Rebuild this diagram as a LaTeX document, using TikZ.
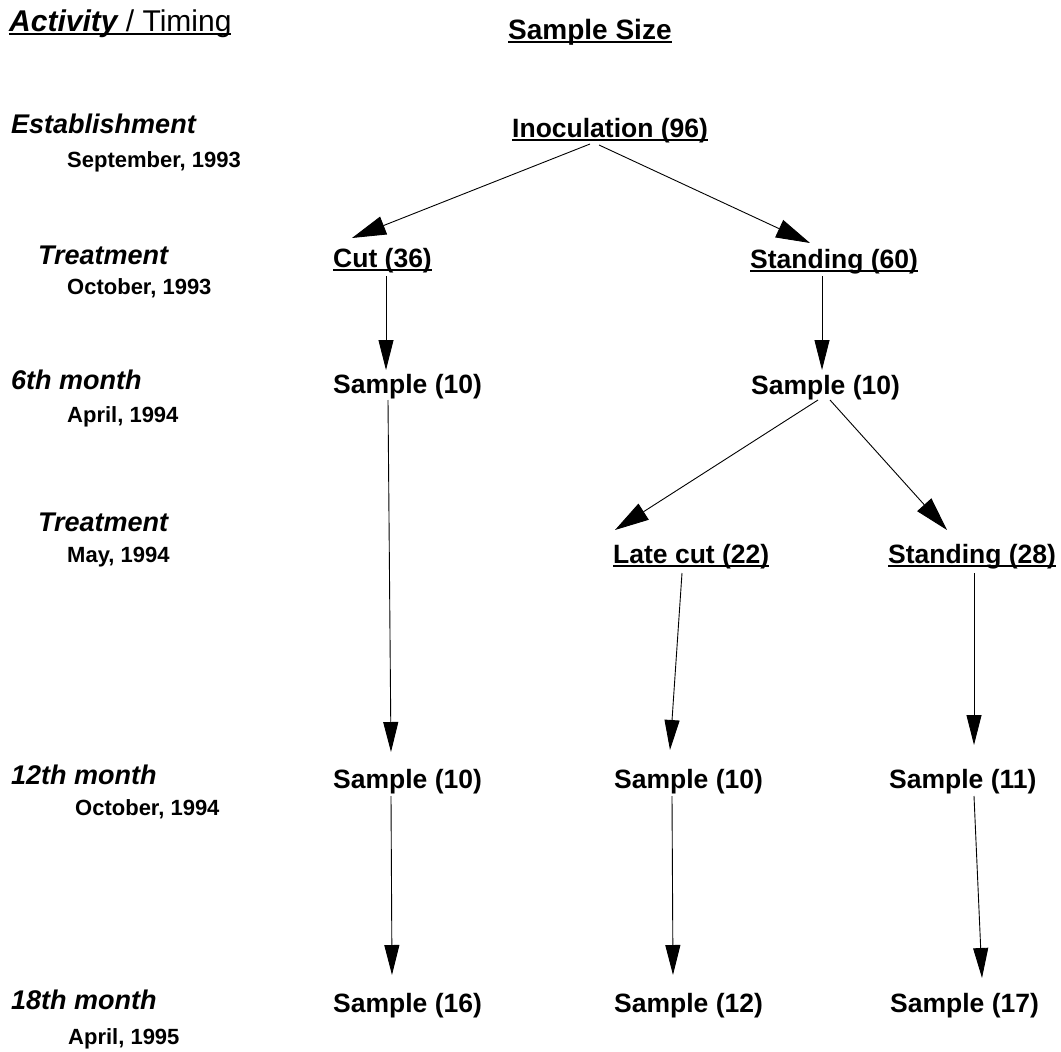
\documentclass[tikz,border=0pt]{standalone}
\usepackage{fontspec}
\setmainfont{Liberation Sans}
\usetikzlibrary{arrows.meta,calc}
\newcommand\undl[1]{\setbox0\hbox{#1}\rlap{\rule[-4pt]{\wd0}{1.8pt}}\box0}
\begin{document}
\begin{tikzpicture}[x=1pt,y=-1pt,
  txt/.style={anchor=base west, inner sep=0pt},
  lbl/.style={txt, font=\bfseries\itshape\fontsize{27}{30}\selectfont},
  dte/.style={txt, font=\bfseries\fontsize{22}{24}\selectfont},
  smp/.style={txt, font=\bfseries\fontsize{26.5}{30}\selectfont},
  hdr/.style={txt, font=\fontsize{30}{32}\selectfont},
  arr/.style={line width=0.9pt, -{Triangle[length=30pt,width=15pt]}},
  darr/.style={line width=0.9pt, -{Triangle[length=34pt,width=19pt]}}]
\useasboundingbox[fill=white] (0,0) rectangle (1061,1052);

% headers
\node[hdr] (act) at (9,31) {\undl{{\bfseries\itshape Activity} / Timing}};
\node[hdr, font=\bfseries\fontsize{28}{32}\selectfont] (ss) at (508,39) {\undl{Sample Size}};

% left labels
\node[lbl] (est) at (11,133) {Establishment};
\node[dte] (sep) at (67,167) {September, 1993};
\node[lbl] (tr1) at (38,264) {Treatment};
\node[dte] (oct93) at (67,294) {October, 1993};
\node[lbl] (m6) at (11,389) {6th month};
\node[dte] (apr94) at (67,422) {April, 1994};
\node[lbl] (tr2) at (38,531) {Treatment};
\node[dte] (may94) at (67,562) {May, 1994};
\node[lbl] (m12) at (11,784) {12th month};
\node[dte] (oct94) at (75,815) {October, 1994};
\node[lbl] (m18) at (11,1009) {18th month};
\node[dte] (apr95) at (68,1044) {April, 1995};

% tree nodes
\node[smp] (inoc) at (512,137) {\undl{Inoculation (96)}};
\node[smp] (cut) at (333,267) {\undl{Cut (36)}};
\node[smp] (st60) at (750,268) {\undl{Standing (60)}};
\node[smp] (sl1) at (333,393) {Sample (10)};
\node[smp] (sr1) at (751,394) {Sample (10)};
\node[smp] (late) at (613,563) {\undl{Late cut (22)}};
\node[smp] (st28) at (888,563) {\undl{Standing (28)}};
\node[smp] (sa) at (333,788) {Sample (10)};
\node[smp] (sb) at (614,788) {Sample (10)};
\node[smp] (sc) at (889,788) {Sample (11)};
\node[smp] (sd) at (333,1012) {Sample (16)};
\node[smp] (se) at (614,1012) {Sample (12)};
\node[smp] (sf) at (890,1012) {Sample (17)};

% connectors
\draw[darr] ($(inoc.base west)+(78,7)$) -- ($(cut.base west)+(19,-29)$);
\draw[darr] ($(inoc.base west)+(87,8)$) -- ($(st60.base west)+(60,-25)$);
\draw[arr] ($(cut.base west)+(53,9)$) -- ($(sl1.base west)+(53,-23)$);
\draw[arr] ($(st60.base west)+(72,8)$) -- ($(sr1.base west)+(71,-24)$);
\draw[darr] ($(sr1.base west)+(67,6)$) -- ($(late.base west)+(2,-33)$);
\draw[darr] ($(sr1.base west)+(79,6)$) -- ($(st28.base west)+(59,-33)$);
\draw[arr] ($(sl1.base west)+(55,7)$) -- ($(sa.base west)+(58,-36)$);
\draw[arr] ($(late.base west)+(69,10)$) -- ($(sb.base west)+(56,-38)$);
\draw[arr] ($(st28.base west)+(86,10)$) -- ($(sc.base west)+(85,-43)$);
\draw[arr] ($(sa.base west)+(58,8)$) -- ($(sd.base west)+(59,-37)$);
\draw[arr] ($(sb.base west)+(58,8)$) -- ($(se.base west)+(59,-37)$);
\draw[arr] ($(sc.base west)+(85,8)$) -- ($(sf.base west)+(92,-34)$);
\end{tikzpicture}
\end{document}
